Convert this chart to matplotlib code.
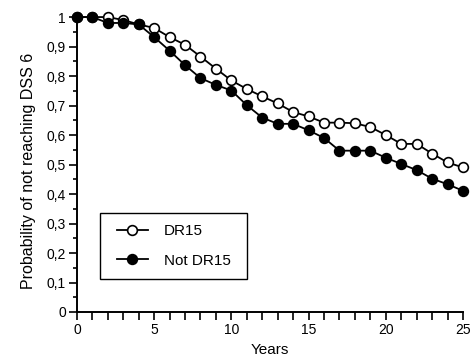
import matplotlib.pyplot as plt
import numpy as np
from matplotlib.ticker import MultipleLocator, FuncFormatter
from matplotlib.patches import Rectangle

plt.rcParams['font.family'] = ['Liberation Sans', 'DejaVu Sans']

# ─── DATA ───────────────────────────────────────────
years = list(range(0, 26))
dr15 = [1.0, 1.0, 1.0, 0.99, 0.975, 0.963, 0.932, 0.906, 0.866, 0.825,
        0.785, 0.756, 0.731, 0.707, 0.678, 0.663, 0.642, 0.642, 0.640, 0.627,
        0.600, 0.570, 0.570, 0.537, 0.507, 0.490]
not_dr15 = [1.0, 1.0, 0.98, 0.98, 0.975, 0.932, 0.886, 0.837, 0.793, 0.770,
            0.751, 0.701, 0.659, 0.638, 0.638, 0.616, 0.590, 0.547, 0.547, 0.547,
            0.523, 0.502, 0.481, 0.452, 0.433, 0.411]
y_ticks = [0, 0.1, 0.2, 0.3, 0.4, 0.5, 0.6, 0.7, 0.8, 0.9, 1.0]
x_ticks = [0, 5, 10, 15, 20, 25]

# ─── PLOT ───────────────────────────────────────────
fig = plt.figure(figsize=(4.72, 3.63), dpi=100)
ax = fig.add_axes([0.163, 0.1405, 0.818, 0.8125])

ax.plot(years, dr15, 'o-', color='black', mfc='white', mec='black',
        markersize=7, mew=1.2, lw=1.3, label='DR15', clip_on=False, zorder=3)
ax.plot(years, not_dr15, 'o-', color='black', mfc='black', mec='black',
        markersize=7, mew=1.2, lw=1.3, label='Not DR15', clip_on=False, zorder=4)

ax.set_xlim(0, 25)
ax.set_ylim(0, 1)
ax.set_xticks(x_ticks)
ax.set_yticks(y_ticks)
ax.xaxis.set_minor_locator(MultipleLocator(1))
ax.yaxis.set_minor_locator(MultipleLocator(0.05))


def fmt(v, pos):
    if abs(v) < 1e-9:
        return '0'
    if abs(v - 1) < 1e-9:
        return '1'
    return f'{v:.1f}'.replace('.', ',')


ax.yaxis.set_major_formatter(FuncFormatter(fmt))

for s in ['top', 'right']:
    ax.spines[s].set_visible(False)
for s in ['left', 'bottom']:
    ax.spines[s].set_linewidth(1.4)

ax.tick_params(which='major', direction='out', length=6, width=1.2, labelsize=10, pad=2)
ax.tick_params(axis='x', which='minor', direction='out', length=6, width=1.2)
ax.tick_params(axis='y', which='minor', direction='out', length=3, width=1.2)

ax.set_xlabel('Years', fontsize=11, labelpad=4)
ax.set_ylabel('Probability of not reaching DSS 6', fontsize=11.5)
ax.yaxis.set_label_coords(-0.105, 0.48)

# legend without its own frame, box drawn a bit wider than the legend
leg = ax.legend(loc='lower left', bbox_to_anchor=(0.074, 0.112), fontsize=11,
                frameon=False, borderaxespad=0,
                handlelength=2.0, handletextpad=1.05, borderpad=0.75, labelspacing=1.0)

fig.canvas.draw()
bb = leg.get_window_extent()
dx = 5.5
fig.patches.append(Rectangle((bb.x0 - dx, bb.y0), bb.width + 2 * dx, bb.height,
                             transform=None, fill=False, edgecolor='black',
                             linewidth=1.0, figure=fig))

plt.savefig('out.png', dpi=100)
